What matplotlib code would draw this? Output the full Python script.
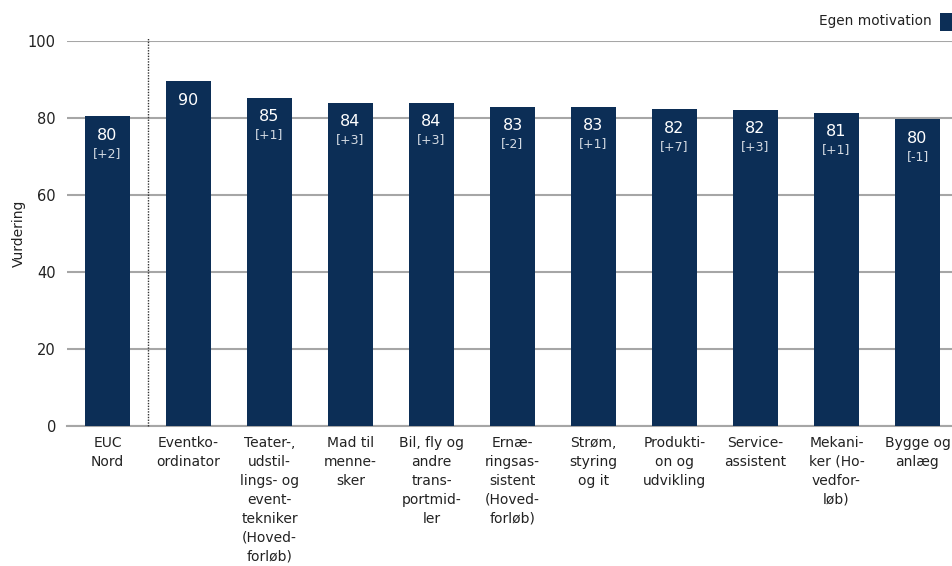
import matplotlib
matplotlib.use("Agg")
import matplotlib.pyplot as plt
from matplotlib.patches import Rectangle

categories = ["EUC\nNord", "Eventko-\nordinator", "Teater-,\nudstil-\nlings- og\nevent-\ntekniker\n(Hoved-\nforløb)",
              "Mad til\nmenne-\nsker", "Bil, fly og\nandre\ntrans-\nportmid-\nler", "Ernæ-\nringsas-\nsistent\n(Hoved-\nforløb)",
              "Strøm,\nstyring\nog it", "Produkti-\non og\nudvikling", "Service-\nassistent", "Mekani-\nker (Ho-\nvedfor-\nløb)",
              "Bygge og\nanlæg"]
values = [80.5, 89.6, 85.2, 83.9, 83.9, 82.9, 82.9, 82.3, 82.1, 81.3, 79.7]
value_labels = ["80", "90", "85", "84", "84", "83", "83", "82", "82", "81", "80"]
change_labels = ["[+2]", "", "[+1]", "[+3]", "[+3]", "[-2]", "[+1]", "[+7]", "[+3]", "[+1]", "[-1]"]
yticks = [0, 20, 40, 60, 80, 100]
series_name = "Egen motivation"
ylabel = "Vurdering"

bar_color = "#0c2e56"
grid_color = "#a6a6a6"

plt.rcParams['font.family'] = ['DejaVu Sans']
fig = plt.figure(figsize=(9.52, 5.66), dpi=100)
W, H = 952, 566
ax = fig.add_axes([67 / W, 1 - 426 / H, (958 - 67) / W, (426 - 41) / H])

x = list(range(len(categories)))
ax.bar(x, values, width=0.555, color=bar_color, zorder=3)
ax.set_xlim(-0.5, len(categories) - 0.5)
ax.set_ylim(0, 100)
ax.set_yticks(yticks)
ax.yaxis.grid(True, color=grid_color, linewidth=1.5, zorder=0)
ax.set_axisbelow(True)
for s in ["top", "right", "left"]:
    ax.spines[s].set_visible(False)
ax.spines["bottom"].set_color(grid_color)
ax.spines["bottom"].set_linewidth(1.5)
ax.tick_params(axis="y", length=0, pad=8, labelsize=10.5, colors="#222222")
ax.tick_params(axis="x", length=0, pad=7, labelsize=10, colors="#222222")
ax.set_xticks(x)
ax.set_xticklabels(categories, linespacing=1.45, va="top")
ax.set_ylabel(ylabel, fontsize=10, color="#222222")
ax.yaxis.set_label_coords((26 - 67) / 891, 0.5)

ax.axvline(0.5, color="#333333", linestyle=(0, (1, 1)), linewidth=1.0, ymin=0, ymax=1.008, clip_on=False, zorder=4)

for xi, v, vl, cl in zip(x, values, value_labels, change_labels):
    ax.annotate(vl, (xi, v), xytext=(0, -19), textcoords="offset pixels",
                ha="center", va="center", color="white", fontsize=11.5, zorder=5)
    if cl:
        ax.annotate(cl, (xi, v), xytext=(0, -37), textcoords="offset pixels",
                    ha="center", va="center", color="#d5dbe3", fontsize=9, zorder=5)

fig.text(932 / W, 1 - 21 / H, series_name, ha="right", va="center", fontsize=9.8, color="#222222")
fig.patches.append(Rectangle((940 / W, 1 - 31 / H), 14 / W, 18 / H, transform=fig.transFigure,
                             facecolor=bar_color, edgecolor="none"))

fig.savefig("out.png", dpi=100)
